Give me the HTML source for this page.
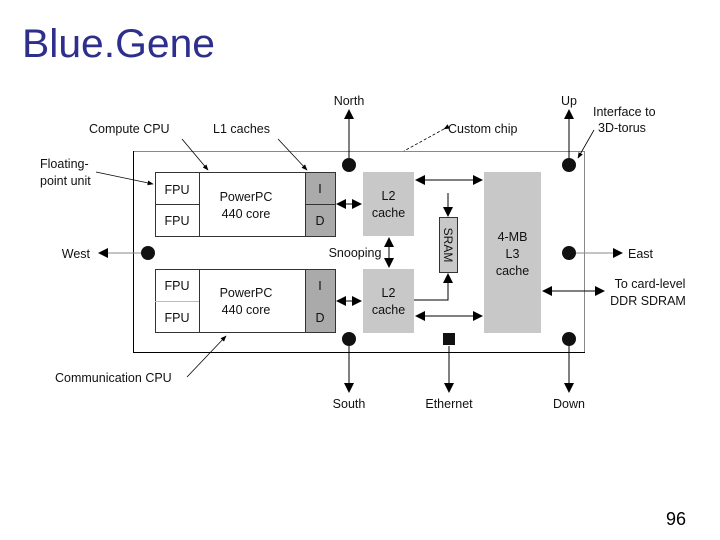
<!DOCTYPE html>
<html><head><meta charset="utf-8"><style>
html,body{margin:0;padding:0;background:#fff;}
svg{display:block;font-family:"Liberation Sans",Arial,sans-serif;}
</style></head><body>
<svg width="720" height="540" viewBox="0 0 720 540" xmlns="http://www.w3.org/2000/svg">
<defs>
<marker id="a" viewBox="0 0 10 10" refX="9" refY="5" markerWidth="10" markerHeight="10" orient="auto-start-reverse" markerUnits="userSpaceOnUse"><path d="M0,0L10,5L0,10z" fill="#000"/></marker>
<marker id="s" viewBox="0 0 10 10" refX="9" refY="5" markerWidth="6" markerHeight="6" orient="auto" markerUnits="userSpaceOnUse"><path d="M0,1L10,5L0,9z" fill="#000"/></marker>
</defs>
<text x="22" y="57" font-size="40" fill="#2e2e8c" textLength="193" lengthAdjust="spacingAndGlyphs">Blue.Gene</text>
<text x="686" y="525" font-size="18" text-anchor="end">96</text>
<g font-size="12.5" fill="#111">
<rect x="133.5" y="151.5" width="451" height="201" fill="#fff" stroke="#888" stroke-width="1"/>
<line x1="133" y1="352.5" x2="585" y2="352.5" stroke="#000"/>
<line x1="133.5" y1="151" x2="133.5" y2="353" stroke="#000"/>
<rect x="155.5" y="172.5" width="150" height="64" fill="#fff" stroke="#333"/>
<line x1="199.5" y1="172" x2="199.5" y2="237" stroke="#333"/>
<line x1="155" y1="204.5" x2="199" y2="204.5" stroke="#333"/>
<rect x="305.5" y="172.5" width="30" height="64" fill="#aaa" stroke="#333"/>
<line x1="305" y1="204.5" x2="335" y2="204.5" stroke="#333"/>
<text x="177" y="194" text-anchor="middle">FPU</text>
<text x="177" y="225" text-anchor="middle">FPU</text>
<text x="246" y="201" text-anchor="middle">PowerPC</text>
<text x="246" y="218" text-anchor="middle">440 core</text>
<text x="320" y="193" text-anchor="middle">I</text>
<text x="320" y="225" text-anchor="middle">D</text>
<rect x="155.5" y="269.5" width="150" height="63" fill="#fff" stroke="#333"/>
<line x1="199.5" y1="269" x2="199.5" y2="333" stroke="#333"/>
<line x1="155" y1="301.5" x2="199" y2="301.5" stroke="#bbb"/>
<rect x="305.5" y="269.5" width="30" height="63" fill="#aaa" stroke="#333"/>
<text x="177" y="290" text-anchor="middle">FPU</text>
<text x="177" y="322" text-anchor="middle">FPU</text>
<text x="246" y="297" text-anchor="middle">PowerPC</text>
<text x="246" y="314" text-anchor="middle">440 core</text>
<text x="320" y="290" text-anchor="middle">I</text>
<text x="320" y="322" text-anchor="middle">D</text>
<rect x="150" y="237" width="190" height="32" fill="#fff"/>
<rect x="363" y="172" width="51" height="64" fill="#c8c8c8"/>
<rect x="363" y="269" width="51" height="64" fill="#c8c8c8"/>
<text x="388.5" y="200" text-anchor="middle">L2</text>
<text x="388.5" y="217" text-anchor="middle">cache</text>
<text x="388.5" y="297" text-anchor="middle">L2</text>
<text x="388.5" y="314" text-anchor="middle">cache</text>
<rect x="439.5" y="217.5" width="18" height="55" fill="#c8c8c8" stroke="#333"/>
<text transform="translate(444,245) rotate(90)" text-anchor="middle" font-size="12">SRAM</text>
<rect x="484" y="172" width="57" height="161" fill="#c8c8c8"/>
<text x="512.5" y="241" text-anchor="middle">4-MB</text>
<text x="512.5" y="258" text-anchor="middle">L3</text>
<text x="512.5" y="275" text-anchor="middle">cache</text>
<g stroke="#000" stroke-width="1" fill="none">
<line x1="337" y1="204" x2="361" y2="204" marker-start="url(#a)" marker-end="url(#a)"/>
<line x1="337" y1="301" x2="361" y2="301" marker-start="url(#a)" marker-end="url(#a)"/>
<line x1="416" y1="180" x2="482" y2="180" marker-start="url(#a)" marker-end="url(#a)"/>
<line x1="416" y1="316" x2="482" y2="316" marker-start="url(#a)" marker-end="url(#a)"/>
<line x1="389" y1="238" x2="389" y2="267" marker-start="url(#a)" marker-end="url(#a)"/>
<line x1="448" y1="193" x2="448" y2="216" marker-end="url(#a)"/>
<polyline points="414,300 448,300 448,274" marker-end="url(#a)"/>
<line x1="543" y1="291" x2="604" y2="291" marker-start="url(#a)" marker-end="url(#a)"/>
<line x1="349" y1="158" x2="349" y2="110" marker-end="url(#a)"/>
<line x1="569" y1="158" x2="569" y2="110" marker-end="url(#a)"/>
<line x1="349" y1="346" x2="349" y2="392" marker-end="url(#a)"/>
<line x1="449" y1="346" x2="449" y2="392" marker-end="url(#a)"/>
<line x1="569" y1="346" x2="569" y2="392" marker-end="url(#a)"/>
<line x1="141" y1="253" x2="99" y2="253" stroke="#888" marker-end="url(#a)"/>
<line x1="576" y1="253" x2="622" y2="253" stroke="#888" marker-end="url(#a)"/>
<line x1="182" y1="139" x2="208" y2="170" stroke-width="0.8" marker-end="url(#s)"/>
<line x1="278" y1="139" x2="307" y2="170" stroke-width="0.8" marker-end="url(#s)"/>
<line x1="96" y1="172" x2="153" y2="184" stroke-width="0.8" marker-end="url(#s)"/>
<line x1="444" y1="129" x2="404" y2="151" stroke-width="0.8" stroke-dasharray="3,2" marker-start="url(#s)"/>
<line x1="594" y1="130" x2="578" y2="158" stroke-width="0.8" marker-end="url(#s)"/>
<line x1="187" y1="377" x2="226" y2="336" stroke-width="0.8" marker-end="url(#s)"/>
</g>
<circle cx="349" cy="165" r="7"/>
<circle cx="569" cy="165" r="7"/>
<circle cx="148" cy="253" r="7"/>
<circle cx="569" cy="253" r="7"/>
<circle cx="349" cy="339" r="7"/>
<circle cx="569" cy="339" r="7"/>
<rect x="443" y="333" width="12" height="12"/>
<text x="349" y="105" text-anchor="middle">North</text>
<text x="569" y="105" text-anchor="middle">Up</text>
<text x="349" y="408" text-anchor="middle">South</text>
<text x="449" y="408" text-anchor="middle">Ethernet</text>
<text x="569" y="408" text-anchor="middle">Down</text>
<text x="90" y="258" text-anchor="end">West</text>
<text x="628" y="258">East</text>
<text x="89" y="133">Compute CPU</text>
<text x="213" y="133">L1 caches</text>
<text x="448" y="133">Custom chip</text>
<text x="593" y="116">Interface to</text>
<text x="598" y="132">3D-torus</text>
<text x="40" y="168">Floating-</text>
<text x="40" y="185">point unit</text>
<text x="355" y="257" text-anchor="middle">Snooping</text>
<text x="650" y="288" text-anchor="middle">To card-level</text>
<text x="648" y="305" text-anchor="middle">DDR SDRAM</text>
<text x="55" y="382">Communication CPU</text>
</g>
</svg>
</body></html>
